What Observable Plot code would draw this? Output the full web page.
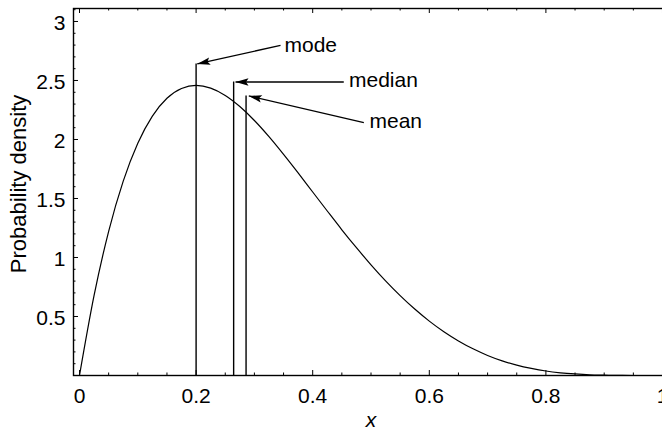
<!DOCTYPE html>
<html>
<head>
<meta charset="utf-8">
<script src="https://cdn.jsdelivr.net/npm/d3@7"></script>
<script src="https://cdn.jsdelivr.net/npm/@observablehq/plot@0.6"></script>
<style>
  html, body { margin: 0; padding: 0; overflow: hidden; background: #fff; }
  #chart { width: 680px; }
  #chart svg { max-width: none !important; }
</style>
</head>
<body>
<div id="chart"></div>
<script>
// Density curve
const xValues = [0,0.025,0.05,0.075,0.1,0.125,0.15,0.175,0.2,0.225,0.25,0.275,0.3,0.325,0.35,0.375,0.4,0.425,0.45,0.475,0.5,0.525,0.55,0.575,0.6,0.625,0.65,0.675,0.7,0.725,0.75,0.775,0.8,0.825,0.85,0.875,0.9,0.925,0.95,0.975,1];
const density = [0,0.678,1.222,1.647,1.968,2.198,2.349,2.432,2.458,2.435,2.373,2.279,2.161,2.024,1.874,1.717,1.555,1.394,1.235,1.083,0.938,0.802,0.677,0.563,0.461,0.371,0.293,0.226,0.170,0.124,0.088,0.060,0.038,0.023,0.013,0.006,0.003,0.001,0.0002,0,0];

// Statistic markers (vertical lines)
const statNames = ["mode", "median", "mean"];
const statX = [0.2, 0.2644, 0.2857];
const statTop = [2.64, 2.487, 2.369];

// Annotation arrows: tail -> tip
const arrowTailX = [0.3448, 0.4533, 0.4877];
const arrowTailY = [2.798, 2.487, 2.143];
const arrowTipX = [0.2019, 0.2676, 0.2904];
const arrowTipY = [2.64, 2.487, 2.369];

// Annotation labels
const labelX = [0.3516, 0.4623, 0.4974];
const labelY = [2.741, 2.445, 2.101];

// Ticks
const xMajor = [0, 0.2, 0.4, 0.6, 0.8, 1];
const xMinor = [0.05,0.1,0.15,0.25,0.3,0.35,0.45,0.5,0.55,0.65,0.7,0.75,0.85,0.9,0.95];
const yMajor = [0.5, 1, 1.5, 2, 2.5, 3];
const yMinor = [0.1,0.2,0.3,0.4,0.6,0.7,0.8,0.9,1.1,1.2,1.3,1.4,1.6,1.7,1.8,1.9,2.1,2.2,2.3,2.4,2.6,2.7,2.8,2.9,3.1];

const xTitle = "x";
const yTitle = "Probability density";

const curve = xValues.map((x, i) => ({x, y: density[i]}));
const stats = statNames.map((n, i) => ({n, x: statX[i], top: statTop[i]}));
const arrows = statNames.map((n, i) => ({x1: arrowTailX[i], y1: arrowTailY[i], x2: arrowTipX[i], y2: arrowTipY[i]}));
const labels = statNames.map((n, i) => ({n, x: labelX[i], y: labelY[i]}));

const W = 680, H = 429, mL = 73, mR = 12, mT = 8, mB = 54;
const plotH = H - mT - mB, plotW = W - mL - mR;
const majorLen = 5, minorLen = 2.5;
const font = "'Liberation Sans', Arial, Helvetica, sans-serif";

const chart = Plot.plot({
  width: W, height: H,
  marginLeft: mL, marginRight: mR, marginTop: mT, marginBottom: mB,
  style: {fontFamily: font, fontSize: "21px", color: "black", background: "white", maxWidth: "none"},
  x: {domain: [-0.0103, 1.0103], label: null},
  y: {domain: [0, 3.11], label: null},
  marks: [
    // tick marks (inward, all four sides)
    Plot.ruleX(xMajor, {insetTop: plotH - majorLen, stroke: "black", strokeWidth: 1}),
    Plot.ruleX(xMinor, {insetTop: plotH - minorLen, stroke: "black", strokeWidth: 1}),
    Plot.ruleX(xMajor, {insetBottom: plotH - majorLen, stroke: "black", strokeWidth: 1}),
    Plot.ruleX(xMinor, {insetBottom: plotH - minorLen, stroke: "black", strokeWidth: 1}),
    Plot.ruleY(yMajor, {insetRight: plotW - majorLen, stroke: "black", strokeWidth: 1}),
    Plot.ruleY(yMinor, {insetRight: plotW - minorLen, stroke: "black", strokeWidth: 1}),
    Plot.ruleY(yMajor, {insetLeft: plotW - majorLen, stroke: "black", strokeWidth: 1}),
    Plot.ruleY(yMinor, {insetLeft: plotW - minorLen, stroke: "black", strokeWidth: 1}),
    Plot.axisX({ticks: xMajor, tickSize: 0, tickPadding: 13, label: null, fontSize: 21, tickFormat: d3.format("~g")}),
    Plot.axisY({ticks: yMajor, tickSize: 0, tickPadding: 8, label: null, fontSize: 21, dy: 2, tickFormat: d3.format("~g")}),
    Plot.line(curve, {x: "x", y: "y", curve: "monotone-x", stroke: "black", strokeWidth: 1.2}),
    Plot.ruleX(stats, {x: "x", y1: 0, y2: "top", stroke: "black", strokeWidth: 1.4}),
    Plot.link(arrows, {x1: "x1", y1: "y1", x2: "x2", y2: "y2", stroke: "black", strokeWidth: 1.3}),
    Plot.text(labels, {x: "x", y: "y", text: "n", textAnchor: "start", lineAnchor: "bottom", fontSize: 21, fill: "black"}),
    Plot.text([xTitle], {frameAnchor: "bottom", dy: 51, textAnchor: "middle", lineAnchor: "bottom", fontSize: 21, fontStyle: "italic", fill: "black"}),
    Plot.text([yTitle], {frameAnchor: "left", dx: -48, dy: -8, rotate: -90, textAnchor: "middle", lineAnchor: "bottom", fontSize: 22, fill: "black"}),
    Plot.frame({stroke: "black", strokeWidth: 1.4})
  ]
});
chart.style.maxWidth = "none";
chart.setAttribute("width", W);

// filled arrowheads for the annotation links
const svg = d3.select(chart);
const defs = svg.insert("defs", ":first-child");
defs.append("marker")
  .attr("id", "headFill")
  .attr("viewBox", "-15 -6 16 12")
  .attr("refX", 0).attr("refY", 0)
  .attr("markerWidth", 16).attr("markerHeight", 12)
  .attr("markerUnits", "userSpaceOnUse")
  .attr("orient", "auto")
  .append("path")
  .attr("d", "M0,0L-13,-3.8L-10.5,0L-13,3.8Z")
  .attr("fill", "black");
svg.selectAll('g[aria-label="link"] path').attr("marker-end", "url(#headFill)");

document.getElementById("chart").appendChild(chart);
</script>
</body>
</html>
